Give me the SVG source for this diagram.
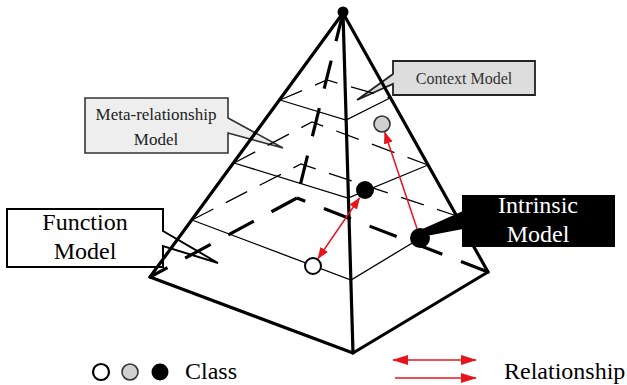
<svg xmlns="http://www.w3.org/2000/svg" width="627" height="385" viewBox="0 0 627 385">
<style>
.edge{stroke:#000;stroke-width:3.2;fill:none;stroke-linecap:round}
.bdash{stroke:#000;stroke-width:3.2;fill:none;stroke-dasharray:29 20}
.front{stroke:#000;stroke-width:1.3;fill:none}
.back{stroke:#000;stroke-width:1.3;fill:none;stroke-dasharray:24 14}
.rel{stroke:#e8141c;stroke-width:1.5;fill:none}
.lbl{font-family:"Liberation Serif","Times New Roman",serif;text-anchor:middle}
</style>
<defs>
<marker id="ah" markerUnits="userSpaceOnUse" markerWidth="12" markerHeight="9" refX="11" refY="4.5" orient="auto-start-reverse" viewBox="0 0 12 9">
<path d="M0,0 L12,4.5 L0,9 Z" fill="#e8141c"/>
</marker>
<marker id="ahL" markerUnits="userSpaceOnUse" markerWidth="16" markerHeight="10" refX="15" refY="5" orient="auto-start-reverse" viewBox="0 0 16 10">
<path d="M0,0 L16,5 L0,10 Z" fill="#e8141c"/>
</marker>
</defs>
<rect width="627" height="385" fill="#fff"/>

<g id="function-model">
<path d="M7,209 H163 V231 L218,263 L163,246 V267 H7 Z" fill="#fff" stroke="#000" stroke-width="2"/>
<text class="lbl" x="85" y="230" font-size="24">Function</text>
<text class="lbl" x="85" y="259" font-size="24">Model</text>
</g>
<g id="meta-relationship-model">
<path d="M85,98 H228 V118 L283,148 L228,133 V153 H85 Z" fill="#eeeeee" stroke="#333" stroke-width="1.6"/>
<text class="lbl" x="156" y="120" font-size="17" fill="#222">Meta-relationship</text>
<text class="lbl" x="156" y="145" font-size="17" fill="#222">Model</text>
</g>
<g id="context-model">
<path d="M393,61 H535 V95 H393 V84 L357,100 L393,74 Z" fill="#dddddd" stroke="#222" stroke-width="1.8"/>
<text class="lbl" x="464" y="84" font-size="16" fill="#333">Context Model</text>
</g>

<g id="pyramid">
<!-- hidden back edges -->
<line class="bdash" x1="343" y1="13" x2="297" y2="198"/>
<line class="bdash" x1="297" y1="198" x2="150" y2="277"/>
<line class="bdash" x1="488" y1="272" x2="297" y2="198"/>
<!-- level slices: back (dashed) -->
<polyline class="back" points="280,100 327,80 390,98"/>
<polyline class="back" points="234,163 312,122 428,165"/>
<polyline class="back" points="192,220 301,164 457,216"/>
<!-- level slices: front -->
<polyline class="front" points="280,100 346,120 390,98"/>
<polyline class="front" points="234,163 348,198 428,165"/>
<polyline class="front" points="192,220 351,280 457,216"/>
<!-- visible edges -->
<line class="edge" x1="343" y1="13" x2="150" y2="277"/>
<line class="edge" x1="343" y1="13" x2="353" y2="353"/>
<line class="edge" x1="343" y1="13" x2="488" y2="272"/>
<polyline class="edge" points="150,277 353,353 488,272" stroke-linejoin="round"/>
</g>

<g id="intrinsic-model">
<rect x="462" y="195" width="153" height="52" fill="#000"/>
<polygon points="463,211 463,229 421,237 418,231" fill="#000"/>
<text class="lbl" x="538" y="213" font-size="24" fill="#fff">Intrinsic</text>
<text class="lbl" x="538" y="242" font-size="24" fill="#fff">Model</text>
</g>

<g id="connectors">
<line class="rel" x1="359.5" y1="198" x2="318" y2="258.5" marker-start="url(#ah)" marker-end="url(#ah)"/>
<line class="rel" x1="417" y1="228.5" x2="384.8" y2="132.5" marker-end="url(#ah)"/>
</g>

<g id="apex"><circle cx="343" cy="12" r="5.5" fill="#000"/></g>
<g id="class-gray"><circle cx="382" cy="124" r="8" fill="#d0d0d0" stroke="#333" stroke-width="1.6"/></g>
<g id="class-black-mid"><circle cx="365" cy="190" r="9" fill="#000"/></g>
<g id="class-black-intrinsic"><circle cx="420" cy="238" r="10" fill="#000"/></g>
<g id="class-white"><circle cx="313" cy="266" r="8" fill="#fff" stroke="#000" stroke-width="2"/></g>

<g id="legend">
<circle cx="101" cy="372" r="8" fill="#fff" stroke="#000" stroke-width="2.2"/>
<circle cx="130" cy="372" r="8" fill="#d0d0d0" stroke="#333" stroke-width="1.6"/>
<circle cx="160" cy="372" r="8.5" fill="#000"/>
<text x="185" y="379" font-size="24" font-family="Liberation Serif, Times New Roman, serif">Class</text>
<line class="rel" x1="393" y1="360" x2="476" y2="360" marker-start="url(#ahL)" marker-end="url(#ahL)"/>
<line class="rel" x1="395" y1="378" x2="476" y2="378" marker-end="url(#ahL)"/>
<text x="504" y="379" font-size="24" font-family="Liberation Serif, Times New Roman, serif">Relationship</text>
</g>
</svg>
